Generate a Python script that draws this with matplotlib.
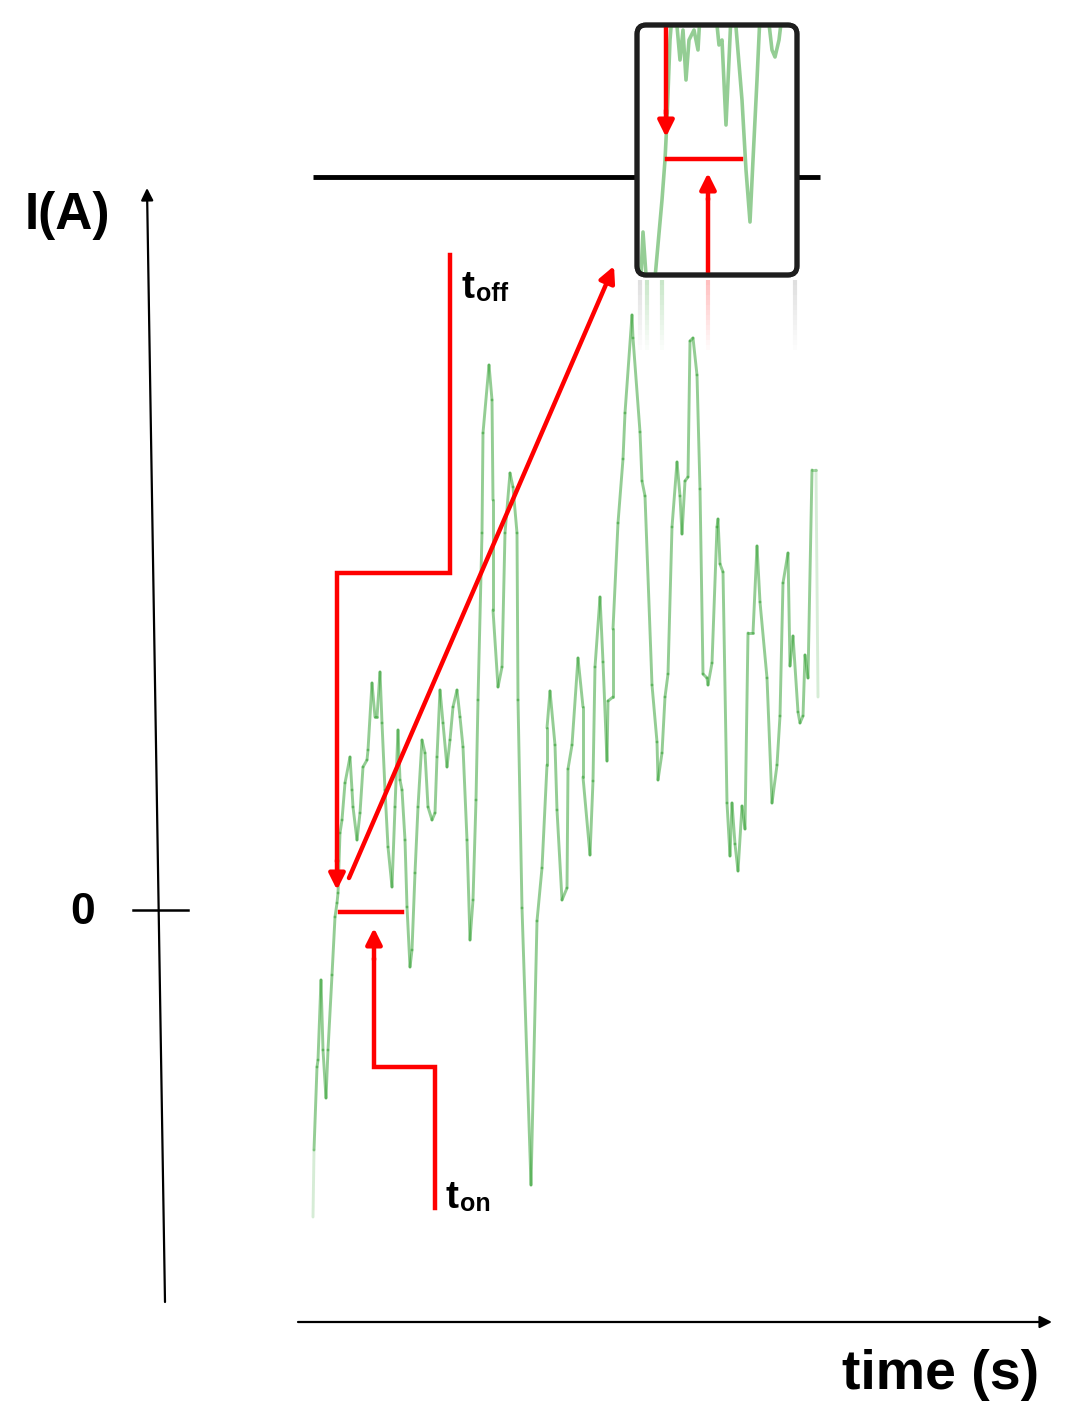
import matplotlib.pyplot as plt
from matplotlib.collections import LineCollection
from matplotlib.patches import FancyBboxPatch
import numpy as np

plt.rcParams['font.family'] = ['Liberation Sans', 'DejaVu Sans']

# coordinates (pixels, y pointing down)
trace_x = [313, 314, 317, 318, 321, 323, 326, 328, 332, 335, 337, 338, 340, 342, 345, 350, 352, 353, 357, 360,
           363, 367, 368, 372, 375, 377, 380, 382, 385, 388, 392, 395, 398, 400, 402, 405, 407, 410, 412, 415,
           418, 422, 425, 428, 432, 435, 437, 440, 443, 447, 450, 453, 457, 460, 463, 467, 470, 473, 476, 478,
           482, 483, 489, 492, 493, 493, 498, 502, 505, 510, 513, 517, 518, 522, 531, 537, 542, 547, 547, 550,
           555, 557, 562, 567, 568, 572, 578, 583, 583, 590, 593, 595, 600, 603, 607, 608, 613, 613, 618, 623,
           625, 632, 633, 640, 642, 645, 652, 657, 658, 662, 665, 668, 672, 677, 680, 682, 685, 688, 690, 693,
           697, 700, 703, 707, 708, 712, 717, 718, 720, 723, 727, 730, 732, 735, 738, 742, 745, 748, 753, 757,
           760, 767, 772, 777, 780, 783, 788, 790, 793, 798, 800, 803, 805, 808, 812, 816, 818]
trace_y = [1217, 1150, 1067, 1060, 980, 1050, 1098, 1050, 975, 917, 903, 893, 833, 820, 783, 757, 790, 807, 840, 813,
           767, 760, 750, 683, 717, 717, 672, 723, 790, 847, 887, 807, 730, 780, 790, 840, 907, 967, 950, 873,
           807, 740, 753, 807, 820, 813, 757, 690, 723, 767, 740, 707, 690, 717, 747, 840, 940, 900, 800, 700,
           533, 433, 365, 400, 500, 610, 687, 667, 533, 473, 487, 533, 700, 908, 1185, 921, 868, 765, 728, 691,
           745, 810, 900, 888, 769, 745, 658, 707, 777, 855, 781, 667, 597, 662, 761, 701, 697, 629, 523, 459,
           413, 315, 338, 432, 481, 496, 685, 742, 780, 753, 697, 674, 527, 462, 496, 534, 481, 477, 341, 338,
           375, 489, 674, 678, 685, 663, 527, 519, 564, 572, 803, 856, 803, 844, 871, 806, 829, 633, 633, 546,
           602, 678, 803, 765, 716, 583, 553, 666, 636, 712, 723, 716, 655, 678, 470, 470, 697]

# zoomed trace pieces inside the inset box
inset_pieces = [
    ([641, 643, 646], [275, 232, 275]),
    ([655, 662, 665, 667, 670, 672], [278, 200, 160, 120, 40, 15]),
    ([676, 680, 683, 686, 689, 694, 698, 700], [15, 60, 30, 80, 40, 30, 50, 15]),
    ([716, 719, 722, 726, 729, 731], [15, 45, 40, 125, 60, 15]),
    ([735, 742, 746, 750, 753, 757, 760], [15, 100, 170, 222, 160, 80, 15]),
    ([768, 772, 775, 779, 782], [15, 50, 57, 40, 15]),
]

GREEN = '#2a9d2a'
RED = '#ff0000'

fig = plt.figure(figsize=(10.7, 14.27), dpi=100)
ax = fig.add_axes([0, 0, 1, 1])
ax.set_xlim(0, 1070)
ax.set_ylim(1427, 0)
ax.axis('off')

# main current trace, fading at both ends
pts = np.column_stack([trace_x, trace_y]).astype(float)
segs = np.stack([pts[:-1], pts[1:]], axis=1)
mid = segs.mean(axis=1)
fade = np.clip((1225 - mid[:, 1]) / 110, 0.05, 1) * np.clip((820 - mid[:, 0]) / 8, 0.15, 1)
cols = [(0.165, 0.616, 0.165, 0.5 * f) for f in fade]
ax.add_collection(LineCollection(segs, colors=cols, linewidths=2.1, capstyle='round'))

# axes of the schematic
ax.annotate('', xy=(147, 188), xytext=(165, 1302),
            arrowprops=dict(arrowstyle='-|>', lw=1.6, color='k', mutation_scale=18, shrinkA=0, shrinkB=0))
ax.annotate('', xy=(1052, 1322), xytext=(298, 1322),
            arrowprops=dict(arrowstyle='-|>', lw=1.6, color='k', mutation_scale=18, shrinkA=0, shrinkB=0))
ax.plot([133, 188], [910, 910], color='k', lw=1.8)
ax.text(83, 913, '0', fontsize=32, fontweight='bold', ha='center', va='center')
ax.text(67, 215, 'I(A)', fontsize=37, fontweight='bold', ha='center', va='center')
ax.text(941, 1375, 'time (s)', fontsize=40, fontweight='bold', ha='center', va='center')

# threshold line
ax.plot([313, 637], [177, 177], color='k', lw=3.5, solid_capstyle='butt')
ax.plot([797, 820], [177, 177], color='k', lw=3.5, solid_capstyle='butt')

# red markers
arrow_kw = dict(arrowstyle='-|>', lw=3.2, color=RED, mutation_scale=24, shrinkA=0, shrinkB=0)
ax.plot([450, 450, 337, 337], [255, 573, 573, 860], color=RED, lw=3.2, solid_joinstyle='miter')
ax.annotate('', xy=(337, 890), xytext=(337, 860), arrowprops=arrow_kw)
ax.plot([435, 435, 374, 374], [1208, 1067, 1067, 960], color=RED, lw=3.2, solid_joinstyle='miter')
ax.annotate('', xy=(374, 928), xytext=(374, 960), arrowprops=arrow_kw)
ax.plot([340, 402], [912, 912], color=RED, lw=3.2)
ax.annotate('', xy=(614, 266), xytext=(349, 878), arrowprops=arrow_kw)

ax.text(461, 298, 't', fontsize=28, fontweight='bold', va='baseline')
ax.text(476, 301, 'off', fontsize=18, fontweight='bold', va='baseline')
ax.text(445, 1208, 't', fontsize=28, fontweight='bold', va='baseline')
ax.text(460, 1211, 'on', fontsize=18, fontweight='bold', va='baseline')

# faint reflection under the inset
for x0, col in [(640, (0.5, 0.5, 0.5)), (795, (0.5, 0.5, 0.5)), (708, (1, 0, 0)), (647, (0.16, 0.62, 0.16)),
                (662, (0.16, 0.62, 0.16))]:
    yy = np.linspace(280, 350, 15)
    rs = [[(x0, yy[i]), (x0, yy[i + 1])] for i in range(len(yy) - 1)]
    ac = [col + (0.25 * (1 - i / len(rs)),) for i in range(len(rs))]
    ax.add_collection(LineCollection(rs, colors=ac, linewidths=3))

# inset box
box = FancyBboxPatch((637, 25), 160, 250, boxstyle='round,pad=0,rounding_size=9',
                     lw=3.5, ec='#1e1e1e', fc='white', zorder=3)
ax.add_patch(box)
for px, py in inset_pieces:
    ln, = ax.plot(px, py, color=GREEN, alpha=0.5, lw=2.6, zorder=4, solid_capstyle='round')
    ln.set_clip_path(box)
ax.plot([666, 666], [28, 112], color=RED, lw=3.2, zorder=5)
ax.annotate('', xy=(666, 137), xytext=(666, 110), arrowprops=arrow_kw, zorder=5)
ax.plot([667, 741], [159, 159], color=RED, lw=3.2, zorder=5)
ax.plot([708, 708], [273, 200], color=RED, lw=3.2, zorder=5)
ax.annotate('', xy=(708, 173), xytext=(708, 200), arrowprops=arrow_kw, zorder=5)
ax.add_patch(FancyBboxPatch((637, 25), 160, 250, boxstyle='round,pad=0,rounding_size=9',
                            lw=3.5, ec='#1e1e1e', fc='none', zorder=6))

fig.savefig('out.png', dpi=100)
